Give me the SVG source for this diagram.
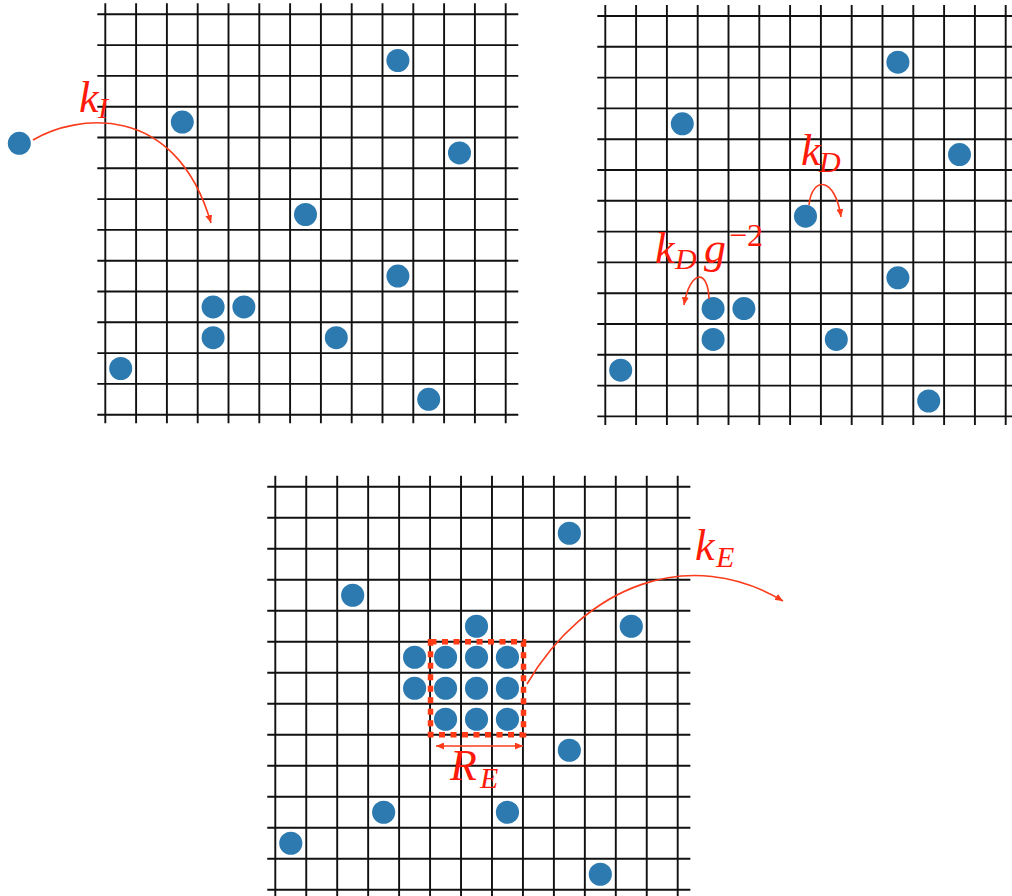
<svg xmlns="http://www.w3.org/2000/svg" xmlns:xlink="http://www.w3.org/1999/xlink" width="1012" height="896" viewBox="0 0 1012 896">
<style>
.grid{fill:none;stroke:#111;stroke-width:1.9}
.dot{fill:#2c7ab0}
.arr{fill:none;stroke:#fa3c1c;stroke-width:1.6}
.box{fill:none;stroke:#ff3a14;stroke-width:5.5;stroke-dasharray:6 5.5}
.lbl{font-family:"Liberation Serif","Times New Roman",serif;font-style:italic;font-size:44px;fill:#ff1a0a}
.sub{font-size:30px}
.sup{font-size:32px;font-style:normal}
</style>
<defs>
<marker id="ah" markerUnits="userSpaceOnUse" markerWidth="9" markerHeight="7" refX="8" refY="3.5" orient="auto-start-reverse" viewBox="0 0 9 7">
<path d="M0,0 L8,3.5 L0,7 z" fill="#fa3c1c"/>
</marker>
<path id="gridpath" class="grid" d="M0,-11V409M30.8,-11V409M61.6,-11V409M92.4,-11V409M123.2,-11V409M154,-11V409M184.8,-11V409M215.6,-11V409M246.4,-11V409M277.2,-11V409M308,-11V409M338.8,-11V409M369.6,-11V409M400.4,-11V409M-8,0H413M-8,30.8H413M-8,61.6H413M-8,92.4H413M-8,123.2H413M-8,154H413M-8,184.8H413M-8,215.6H413M-8,246.4H413M-8,277.2H413M-8,308H413M-8,338.8H413M-8,369.6H413M-8,400.4H413"/>
</defs>
<rect width="1012" height="896" fill="#fff"/>

<g id="panel-insertion" transform="translate(105.3,14.3)">
<use xlink:href="#gridpath" href="#gridpath"/>
<g id="dotsA">
<circle class="dot" cx="292.6" cy="46.2" r="11.5"/>
<circle class="dot" cx="77" cy="107.8" r="11.5"/>
<circle class="dot" cx="354.2" cy="138.6" r="11.5"/>
<circle class="dot" cx="200.2" cy="200.2" r="11.5"/>
<circle class="dot" cx="292.6" cy="261.8" r="11.5"/>
<circle class="dot" cx="107.8" cy="292.6" r="11.5"/>
<circle class="dot" cx="138.6" cy="292.6" r="11.5"/>
<circle class="dot" cx="107.8" cy="323.4" r="11.5"/>
<circle class="dot" cx="231" cy="323.4" r="11.5"/>
<circle class="dot" cx="15.4" cy="354.2" r="11.5"/>
<circle class="dot" cx="323.4" cy="385" r="11.5"/>
</g>
</g>
<g id="incoming-particle"><circle class="dot" cx="19.3" cy="143.3" r="11.5"/></g>

<g id="panel-diffusion" transform="translate(605.3,16)">
<use xlink:href="#gridpath" href="#gridpath"/>
<g id="dotsB">
<circle class="dot" cx="292.6" cy="46.2" r="11.5"/>
<circle class="dot" cx="77" cy="107.8" r="11.5"/>
<circle class="dot" cx="354.2" cy="138.6" r="11.5"/>
<circle class="dot" cx="200.2" cy="200.2" r="11.5"/>
<circle class="dot" cx="292.6" cy="261.8" r="11.5"/>
<circle class="dot" cx="107.8" cy="292.6" r="11.5"/>
<circle class="dot" cx="138.6" cy="292.6" r="11.5"/>
<circle class="dot" cx="107.8" cy="323.4" r="11.5"/>
<circle class="dot" cx="231" cy="323.4" r="11.5"/>
<circle class="dot" cx="15.4" cy="354.2" r="11.5"/>
<circle class="dot" cx="323.4" cy="385" r="11.5"/>
</g>
</g>

<g id="panel-extraction" transform="translate(275.3,486.7) scale(1.005,1.0065)">
<use xlink:href="#gridpath" href="#gridpath"/>
<g id="dotsC">
<circle class="dot" cx="292.6" cy="46.2" r="11.5"/>
<circle class="dot" cx="77" cy="107.8" r="11.5"/>
<circle class="dot" cx="354.2" cy="138.6" r="11.5"/>
<circle class="dot" cx="200.2" cy="138.6" r="11.5"/>
<circle class="dot" cx="138.6" cy="169.4" r="11.5"/>
<circle class="dot" cx="169.4" cy="169.4" r="11.5"/>
<circle class="dot" cx="200.2" cy="169.4" r="11.5"/>
<circle class="dot" cx="231" cy="169.4" r="11.5"/>
<circle class="dot" cx="138.6" cy="200.2" r="11.5"/>
<circle class="dot" cx="169.4" cy="200.2" r="11.5"/>
<circle class="dot" cx="200.2" cy="200.2" r="11.5"/>
<circle class="dot" cx="231" cy="200.2" r="11.5"/>
<circle class="dot" cx="169.4" cy="231" r="11.5"/>
<circle class="dot" cx="200.2" cy="231" r="11.5"/>
<circle class="dot" cx="231" cy="231" r="11.5"/>
<circle class="dot" cx="292.6" cy="261.8" r="11.5"/>
<circle class="dot" cx="107.8" cy="323.4" r="11.5"/>
<circle class="dot" cx="231" cy="323.4" r="11.5"/>
<circle class="dot" cx="15.4" cy="354.2" r="11.5"/>
<circle class="dot" cx="323.4" cy="385" r="11.5"/>
</g>
</g>
<g id="cluster-box"><rect class="box" x="430.5" y="641.7" width="93" height="93"/></g>

<g id="connectors">
<path class="arr" d="M33,140 C75,115 175,100 211,223" marker-end="url(#ah)"/>
<path class="arr" d="M809,205 C812,176 835,176 841,217" marker-end="url(#ah)"/>
<path class="arr" d="M709,299 C708,268 690,270 684,305" marker-end="url(#ah)"/>
<path class="arr" d="M527,684 C585,585 690,545 783,601" marker-end="url(#ah)"/>
<path class="arr" d="M436,746 H523" marker-start="url(#ah)" marker-end="url(#ah)"/>
</g>

<g id="labels">
<text class="lbl"><tspan x="79" y="112">k</tspan><tspan class="sub" x="98" y="118">I</tspan></text>
<text class="lbl"><tspan x="801" y="165">k</tspan><tspan class="sub" x="819" y="172">D</tspan></text>
<text class="lbl"><tspan x="655" y="263">k</tspan><tspan class="sub" x="675" y="269">D</tspan><tspan x="704" y="263">g</tspan><tspan class="sup" x="729" y="246">−2</tspan></text>
<text class="lbl"><tspan x="695" y="560">k</tspan><tspan class="sub" x="716" y="567">E</tspan></text>
<text class="lbl"><tspan x="450" y="780">R</tspan><tspan class="sub" x="480" y="788">E</tspan></text>
</g>
</svg>
